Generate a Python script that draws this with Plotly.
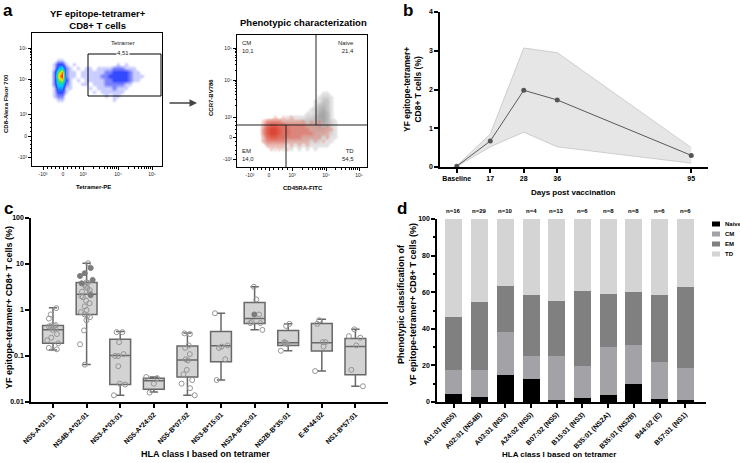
import numpy as np
import plotly.graph_objects as go

W, H = 740, 463
FONT = "Liberation Sans"

# ---------------- Panel a : flow cytometry densities (0-9 scale) ----------------
flow_cols = list(range(2, 134, 4))  # column centres in display-channel units (33 columns)

# (row centre, first column, density digits)
tetramer_rows = [
    (110, 0, "0"),
    (106, 6, "11"),
    (102, 5, "1331010000000000101"),
    (98, 5, "14521010110111122211100"),
    (94, 5, "26821101111112233332110"),
    (90, 5, "27921101111122333332111"),
    (86, 5, "26731010111112233332110"),
    (82, 5, "25521001101112222211000"),
    (78, 5, "14411000010111121110000"),
    (74, 5, "13310000001011111100000"),
    (70, 5, "12200000000001011000000"),
    (66, 5, "01100000000000010000000"),
    (62, 0, "0"),
]
cd8_gray_rows = [
    (82, 0, "0"),
    (78, 0, "0"),
    (74, 21, "11"),
    (70, 20, "1221"),
    (66, 19, "11331"),
    (62, 19, "13431"),
    (58, 18, "124531"),
    (54, 17, "1125641"),
    (50, 12, "111112236641"),
    (46, 7, "122222222333466421"),
    (42, 6, "1233333333334455421"),
    (38, 6, "1333333333333444321"),
    (34, 6, "1333333333333333221"),
    (30, 6, "1233333333333332211"),
    (26, 6, "122222222222222111"),
    (22, 7, "1111111111111111"),
    (18, 8, "0101010101010"),
    (14, 0, "0"),
]
tet_red_rows = [
    (54, 0, "0"),
    (50, 8, "0101010"),
    (46, 6, "122221111110101"),
    (42, 6, "13443322222111101"),
    (38, 6, "245543322222111111"),
    (34, 6, "245543322222211110"),
    (30, 6, "13443322221111101"),
    (26, 6, "1222221111110101"),
    (22, 7, "111110101010"),
    (18, 8, "1010100"),
    (14, 0, "0"),
]
# gates / quadrants (display-channel units) and their percentages
tet_gate_x = [56, 129]
tet_gate_y = [70, 112]
tet_gate_pct = "4,51"
quad_x_upper, quad_x_lower, quad_y = 79, 49, 42
quad_pct = {"CM": "10,1", "Naive": "21,4", "EM": "14,0", "TD": "54,5"}

flow_tick_text = ["-10³", "0", "10³", "10⁴", "10⁵"]
flow1_x_ticks = [11, 31, 51, 86, 120]
flow1_y_ticks = [9, 30, 52, 87, 118]
flow2_x_ticks = [13, 32, 55, 89, 122]
flow2_y_ticks = [8, 30, 50, 87, 119]

# ---------------- Panel b : kinetics ----------------
time_labels = ["Baseline", "17", "28", "36", "95"]
time_axis_pos = [0, 1, 2, 3, 7]
tet_mean = [0.02, 0.67, 1.98, 1.73, 0.30]
tet_upper = [0.03, 0.85, 3.07, 2.95, 0.50]
tet_lower = [0.01, 0.52, 0.90, 0.52, 0.10]

# ---------------- Panel c : frequencies per tetramer ----------------
hla_tetramers = ["NS5-A*01:01", "NS4B-A*02:01", "NS3-A*03:01", "NS5-A*24:02", "NS5-B*07:02",
                 "NS3-B*15:01", "NS2A-B*35:01", "NS2B-B*35:01", "E-B*44:02", "NS1-B*57:01"]
box_min = [0.135, 0.065, 0.014, 0.0165, 0.014, 0.030, 0.37, 0.13, 0.047, 0.022]
box_q1 = [0.19, 0.80, 0.024, 0.019, 0.035, 0.075, 0.51, 0.17, 0.128, 0.039]
box_median = [0.37, 2.2, 0.102, 0.029, 0.082, 0.167, 0.65, 0.194, 0.194, 0.16]
box_q3 = [0.46, 3.95, 0.23, 0.033, 0.164, 0.34, 1.45, 0.36, 0.51, 0.24]
box_max = [1.12, 10.4, 0.34, 0.035, 0.315, 0.85, 3.2, 0.50, 0.63, 0.38]
freq_open = [
    [1.1, 0.8, 0.65, 0.47, 0.46, 0.45, 0.44, 0.43, 0.40, 0.37, 0.30, 0.25, 0.22, 0.19, 0.15, 0.14],
    [10.4, 4.0, 3.9, 3.5, 3.2, 3.0, 2.7, 2.5, 2.3, 2.0, 1.9, 1.6, 1.4, 1.2, 1.0, 0.9, 0.8, 0.75,
     0.7, 0.6, 0.36, 0.18, 0.065],
    [0.33, 0.33, 0.2, 0.11, 0.1, 0.1, 0.06, 0.025, 0.024, 0.014],
    [0.035, 0.033, 0.025, 0.016],
    [0.31, 0.30, 0.17, 0.15, 0.11, 0.085, 0.08, 0.05, 0.04, 0.03, 0.025, 0.02, 0.014],
    [0.85, 0.17, 0.16, 0.15, 0.085, 0.03],
    [3.2, 1.7, 0.8, 0.55, 0.52, 0.52, 0.37],
    [0.5, 0.45, 0.2, 0.19, 0.19, 0.18, 0.19, 0.13],
    [0.6, 0.5, 0.2, 0.2, 0.16, 0.047],
    [0.38, 0.27, 0.25, 0.17, 0.05, 0.022],
]
freq_filled = [[], [8.2, 6.3, 5.5, 4.5, 3.8, 2.1], [], [], [], [], [0.8], [], [], []]

# ---------------- Panel d : phenotypes ----------------
alleles = ["A01:01 (NS5)", "A02:01 (NS4B)", "A03:01 (NS3)", "A24:02 (NS5)", "B07:02 (NS5)",
           "B15:01 (NS3)", "B35:01 (NS2A)", "B35:01 (NS2B)", "B44:02 (E)", "B57:01 (NS1)"]
n_donors = [16, 29, 10, 4, 13, 6, 8, 8, 6, 6]
pct_naive = [4.5, 2.9, 14.6, 12.7, 1.3, 2.2, 4.0, 10.0, 1.6, 0.9]
pct_cm = [12.8, 14.4, 23.8, 12.6, 24.0, 17.3, 26.1, 21.3, 20.3, 17.9]
pct_em = [29.4, 37.2, 25.0, 33.0, 29.7, 41.2, 28.9, 28.8, 36.4, 44.0]
pct_td = [53.3, 45.5, 36.6, 41.7, 45.0, 39.3, 41.0, 39.9, 41.7, 37.2]
phenotypes = ["Naive", "CM", "EM", "TD"]
pheno_colors = ["#000000", "#a3a3a7", "#808080", "#d4d4d4"]


def density_grid(rows, ncols):
    rows = sorted(rows, key=lambda r: r[0])
    ys, z = [], []
    for yc, start, digits in rows:
        vals = [0] * ncols
        for i, ch in enumerate(digits):
            vals[start + i] = int(ch)
        ys.append(yc)
        z.append(vals)
    return ys, z


def minor_positions(major):
    out = []
    m = np.arange(2, 10)
    for a, b in [(major[2], major[3]), (major[3], major[4])]:
        out += list(a + (b - a) * np.log10(m))
    out += list(np.linspace(major[1], major[2], 6)[1:-1])
    out += list(np.linspace(major[0], major[1], 6)[1:-1])
    return [float(v) for v in out]


def px(x):
    return x / W


def py(y):
    return 1 - y / H


def ann(text, x, y, size, bold=True, angle=0, xanchor="center", yanchor="middle", color="black"):
    return dict(text=("<b>%s</b>" % text) if bold else text, x=px(x), y=py(y), xref="paper",
                yref="paper", showarrow=False, textangle=angle, xanchor=xanchor, yanchor=yanchor,
                font=dict(family=FONT, size=size, color=color))


fig = go.Figure()

# ---- flow plot 1
jet = [[0, "rgba(255,255,255,0)"], [0.08, "rgba(150,160,255,0.35)"], [0.2, "rgba(70,80,255,0.65)"],
       [0.33, "rgba(30,50,255,0.9)"], [0.5, "#00c8ff"], [0.65, "#30e070"], [0.8, "#ffe000"], [1, "#ff1500"]]
ys, z = density_grid(tetramer_rows, len(flow_cols))
fig.add_trace(go.Heatmap(x=flow_cols, y=ys, z=z, zmin=0, zmax=9, zsmooth="best", colorscale=jet,
                         showscale=False, hoverinfo="skip", xaxis="x", yaxis="y"))

# ---- flow plot 2
gray_cs = [[0, "rgba(255,255,255,0)"], [0.1, "rgba(215,215,215,0.6)"], [0.35, "#cacaca"],
           [0.7, "#aeaeae"], [1, "#9c9c9c"]]
red_cs = [[0, "rgba(255,255,255,0)"], [0.12, "rgba(250,120,100,0.3)"], [0.35, "rgba(240,75,55,0.55)"],
          [0.7, "rgba(232,50,30,0.75)"], [1, "rgba(215,30,15,0.9)"]]
ys, z = density_grid(cd8_gray_rows, len(flow_cols))
fig.add_trace(go.Heatmap(x=flow_cols, y=ys, z=z, zmin=0, zmax=7, zsmooth="best", colorscale=gray_cs,
                         showscale=False, hoverinfo="skip", xaxis="x2", yaxis="y2"))
ys, z = density_grid(tet_red_rows, len(flow_cols))
fig.add_trace(go.Heatmap(x=flow_cols, y=ys, z=z, zmin=0, zmax=6, zsmooth="best", colorscale=red_cs,
                         showscale=False, hoverinfo="skip", xaxis="x2", yaxis="y2"))

# ---- panel b
fig.add_trace(go.Scatter(x=time_axis_pos, y=tet_upper, mode="lines", line=dict(color="#c4c4c4", width=0.8),
                         showlegend=False, hoverinfo="skip", xaxis="x3", yaxis="y3"))
fig.add_trace(go.Scatter(x=time_axis_pos, y=tet_lower, mode="lines", line=dict(color="#c4c4c4", width=0.8),
                         fill="tonexty", fillcolor="#e6e6e6", showlegend=False, hoverinfo="skip",
                         xaxis="x3", yaxis="y3"))
fig.add_trace(go.Scatter(x=time_axis_pos, y=tet_mean, mode="lines+markers",
                         line=dict(color="#5a5a5a", width=1), marker=dict(color="#555555", size=5),
                         showlegend=False, cliponaxis=False, xaxis="x3", yaxis="y3"))

# ---- panel c
fig.add_trace(go.Box(x=hla_tetramers, q1=box_q1, median=box_median, q3=box_q3, lowerfence=box_min,
                     upperfence=box_max, fillcolor="#d3d3d3", line=dict(color="#686868", width=1.5),
                     width=0.62, whiskerwidth=0.4, boxpoints=False, showlegend=False,
                     xaxis="x4", yaxis="y4"))
for vals, symbol, color in [(freq_open, "circle-open", "#959595"), (freq_filled, "circle", "#7c7c7c")]:
    xs = [hla_tetramers[i] for i, v in enumerate(vals) for _ in v]
    yv = [y for v in vals for y in v]
    fig.add_trace(go.Box(x=xs, y=yv, boxpoints="all", jitter=0.75, pointpos=0, width=0.62,
                         fillcolor="rgba(0,0,0,0)", line=dict(width=0, color="rgba(0,0,0,0)"),
                         marker=dict(symbol=symbol, size=5, color=color, line=dict(width=1, color=color)),
                         showlegend=False, hoverinfo="y", xaxis="x4", yaxis="y4"))

# ---- panel d
for name, vals, color in zip(phenotypes, [pct_naive, pct_cm, pct_em, pct_td], pheno_colors):
    fig.add_trace(go.Bar(x=alleles, y=vals, name=name, marker=dict(color=color, line=dict(width=0)),
                         width=0.66, showlegend=False, xaxis="x5", yaxis="y5"))

# ---------------- axes ----------------
flow_axis = dict(showline=True, linecolor="black", linewidth=1, mirror=True, ticks="outside", ticklen=3,
                 tickwidth=1, tickcolor="black", showgrid=False, zeroline=False, tickmode="array",
                 automargin=False, ticktext=flow_tick_text, tickfont=dict(family=FONT, size=5, color="#222"))
tick_bold = dict(family=FONT, size=7, color="black", weight="bold")
main_axis = dict(showline=True, linecolor="black", linewidth=1.5, ticks="outside", ticklen=4, tickwidth=1.5,
                 tickcolor="black", showgrid=False, zeroline=False, tickfont=tick_bold, automargin=False)
minor_flow = dict(ticklen=1.5, ticks="outside", tickcolor="black")

fig.update_layout(
    width=W, height=H, margin=dict(l=0, r=0, t=0, b=0, autoexpand=False), paper_bgcolor="white",
    plot_bgcolor="white", barmode="stack", boxmode="overlay", showlegend=False,
    font=dict(family=FONT, color="black"),
    xaxis=dict(flow_axis, domain=[px(32), px(162)], range=[0, 130], anchor="y", tickvals=flow1_x_ticks,
               minor=dict(minor_flow, tickvals=minor_positions(flow1_x_ticks))),
    yaxis=dict(flow_axis, domain=[py(166), py(33)], range=[0, 133], anchor="x", tickvals=flow1_y_ticks,
               minor=dict(minor_flow, tickvals=minor_positions(flow1_y_ticks))),
    xaxis2=dict(flow_axis, domain=[px(237), px(367)], range=[0, 130], anchor="y2", tickvals=flow2_x_ticks,
                minor=dict(minor_flow, tickvals=minor_positions(flow2_x_ticks))),
    yaxis2=dict(flow_axis, domain=[py(167), py(35)], range=[0, 132], anchor="x2", tickvals=flow2_y_ticks,
                minor=dict(minor_flow, tickvals=minor_positions(flow2_y_ticks))),
    xaxis3=dict(main_axis, domain=[px(440), px(708)], range=[-0.5, 7.5], anchor="y3", tickmode="array",
                tickvals=time_axis_pos, ticktext=time_labels),
    yaxis3=dict(main_axis, domain=[py(167), py(12)], range=[0, 4], dtick=1, anchor="x3"),
    xaxis4=dict(main_axis, domain=[px(31), px(388)], type="category", range=[-0.655, 9.97], anchor="y4",
                tickangle=-45, tickfont=dict(tick_bold, size=7)),
    yaxis4=dict(main_axis, domain=[py(402), py(218)], type="log", range=[-2, 2], anchor="x4",
                tickmode="array", tickvals=[0.01, 0.1, 1, 10, 100], ticktext=["0.01", "0.1", "1", "10", "100"]),
    xaxis5=dict(main_axis, domain=[px(437), px(706)], type="category", range=[-0.66, 9.81], anchor="y5",
                tickangle=-45, tickfont=dict(tick_bold, size=7)),
    yaxis5=dict(main_axis, domain=[py(402), py(219)], range=[0, 100], dtick=20, anchor="x5",
                minor=dict(dtick=10, ticklen=2, ticks="outside", tickcolor="black")),
)

# ---------------- shapes (gates, legend swatches) ----------------
shapes = [
    dict(type="rect", xref="x", yref="y", x0=tet_gate_x[0], x1=tet_gate_x[1], y0=tet_gate_y[0],
         y1=tet_gate_y[1], line=dict(color="black", width=1)),
    dict(type="line", xref="x2", yref="y2", x0=0, x1=130, y0=quad_y, y1=quad_y, line=dict(color="#222", width=1)),
    dict(type="line", xref="x2", yref="y2", x0=quad_x_upper, x1=quad_x_upper, y0=quad_y, y1=132,
         line=dict(color="#222", width=1)),
    dict(type="line", xref="x2", yref="y2", x0=quad_x_lower, x1=quad_x_lower, y0=0, y1=quad_y,
         line=dict(color="#222", width=1)),
]
A = []
for i, (name, color) in enumerate(zip(phenotypes, pheno_colors)):
    yc = 224 + 10 * i
    shapes.append(dict(type="rect", xref="paper", yref="paper", x0=px(712), x1=px(720), y0=py(yc + 2.5),
                       y1=py(yc - 2.5), fillcolor=color, line=dict(width=0)))
    A.append(ann(name, 723, yc, 6, xanchor="left"))
fig.update_layout(shapes=shapes)

# ---------------- annotations ----------------
for letter, x, y in [("a", 8, 10), ("b", 408, 10), ("c", 8, 208), ("d", 402, 208)]:
    A.append(ann(letter, x, y, 17))
A.append(ann("YF epitope-tetramer+<br>CD8+ T cells", 98, 19, 9.5))
A.append(ann("Phenotypic characterization", 303, 23, 9.5))
A.append(ann("Tetramer-PE", 93, 187, 6))
A.append(ann("CD8-Alexa Fluor 700", 6, 104, 6, angle=-90))
A.append(ann("CD45RA-FITC", 303, 188, 6))
A.append(ann("CCR7-BV786", 211, 97, 6, angle=-90))
fl = dict(family=FONT, size=6, color="#222")
A.append(dict(text="Tetramer", x=91, y=123, xref="x", yref="y", showarrow=False, font=fl))
A.append(dict(text=tet_gate_pct, x=91, y=113, xref="x", yref="y", showarrow=False, font=fl,
              bgcolor="white", borderpad=0))
A.append(dict(text="CM<br>" + quad_pct["CM"], x=3, y=120, xref="x2", yref="y2", showarrow=False,
              xanchor="left", align="left", font=fl))
A.append(dict(text="Naive<br>" + quad_pct["Naive"], x=119, y=120, xref="x2", yref="y2", showarrow=False,
              xanchor="right", align="right", font=fl))
A.append(dict(text="EM<br>" + quad_pct["EM"], x=3, y=12, xref="x2", yref="y2", showarrow=False,
              xanchor="left", align="left", font=fl))
A.append(dict(text="TD<br>" + quad_pct["TD"], x=119, y=12, xref="x2", yref="y2", showarrow=False,
              xanchor="right", align="right", font=fl))
A.append(dict(x=px(197), y=py(103), xref="paper", yref="paper", ax=-29, ay=0, text="", showarrow=True,
              arrowhead=2, arrowsize=1, arrowwidth=1.5, arrowcolor="#444"))
# panel b titles
A.append(ann("YF epitope-tetramer+<br>CD8+ T cells (%)", 412, 90, 8.5, angle=-90))
A.append(ann("Days post vaccination", 573, 192, 8))
# panel c titles
A.append(ann("YF epitope-tetramer+ CD8+ T cells (%)", 9, 308, 9, angle=-90))
A.append(ann("HLA class I based on tetramer", 205, 454, 9))
# panel d titles
A.append(ann("Phenotypic classification of<br>YF epitope-tetramer+ CD8+ T cells (%)", 407, 305, 9, angle=-90))
A.append(ann("HLA class I based on tetramer", 559, 454, 8))
for a_, n in zip(alleles, n_donors):
    A.append(dict(text="<b>n=%d</b>" % n, x=a_, y=100, xref="x5", yref="y5", yshift=8, showarrow=False,
                  font=dict(family=FONT, size=6, color="black")))
fig.update_layout(annotations=A)

fig.write_html("out.html", config={"displayModeBar": False},
               post_script="document.body.style.margin='0px';document.body.style.padding='0px';")
